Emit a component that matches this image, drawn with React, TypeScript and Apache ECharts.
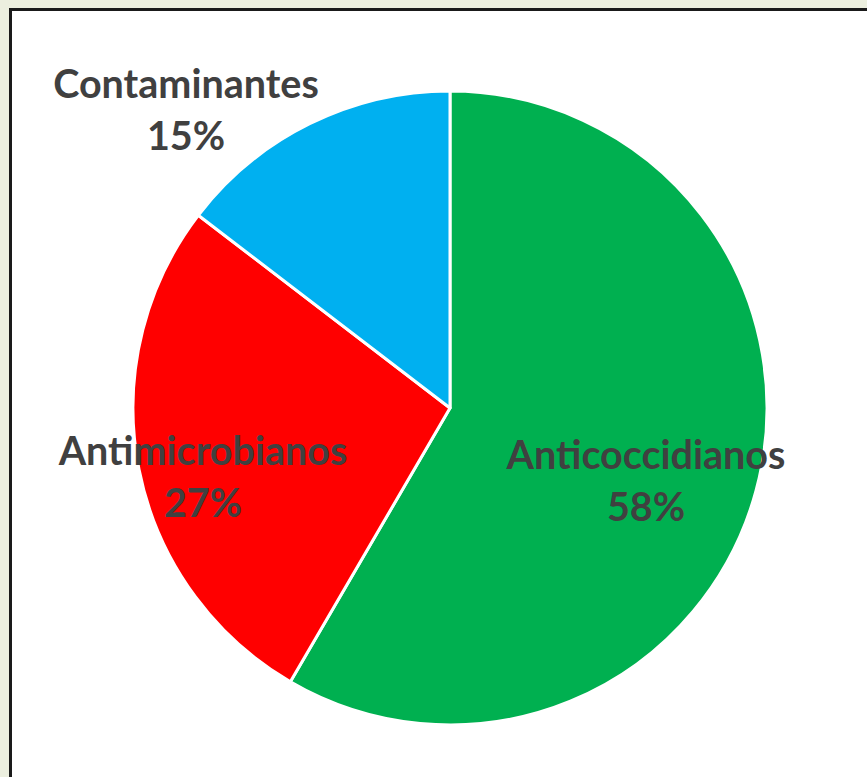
import React, { useEffect, useRef } from "react";
import * as echarts from "echarts";

const categories = ["Anticoccidianos", "Antimicrobianos", "Contaminantes"];
const values = [58.4, 27.0, 14.6];
const colors = ["#00B050", "#FF0000", "#00B0F0"];

// label block centres (layout only)
const labelCenters: [number, number][] = [
  [646, 479],
  [203, 475],
  [186, 108],
];

export default function App() {
  const ref = useRef<HTMLDivElement>(null);
  useEffect(() => {
    if (!ref.current) return;
    const chart = echarts.init(ref.current, null, { renderer: "svg" });
    chart.setOption({
      animation: false,
      backgroundColor: "#ECEFDF",
      graphic: [
        {
          type: "rect",
          z: 0,
          shape: { x: 10.5, y: 9.5, width: 1000, height: 1000 },
          style: { fill: "#FFFFFF", stroke: "#1A1A1A", lineWidth: 3 },
        },
      ],
      series: [
        {
          type: "pie",
          z: 2,
          center: [450, 408],
          radius: 317,
          startAngle: 90,
          clockwise: true,
          percentPrecision: 0,
          itemStyle: { borderColor: "#FFFFFF", borderWidth: 3 },
          label: {
            show: true,
            position: "inside",
            formatter: "{b}\n{d}%",
            fontFamily: "Lato",
            fontWeight: "bold",
            fontSize: 39.5,
            lineHeight: 52,
            color: "#404040",
            align: "center",
          },
          labelLine: { show: false },
          labelLayout: (params: any) => {
            const c = labelCenters[params.dataIndex];
            return { x: c[0], y: c[1], align: "center", verticalAlign: "middle" };
          },
          emphasis: { disabled: true },
          data: categories.map((name, i) => ({
            name,
            value: values[i],
            itemStyle: { color: colors[i] },
          })),
        },
      ],
    });
    return () => chart.dispose();
  }, []);
  return (
    <div
      ref={ref}
      style={{ position: "fixed", left: 0, top: 0, width: 867, height: 777 }}
    />
  );
}
